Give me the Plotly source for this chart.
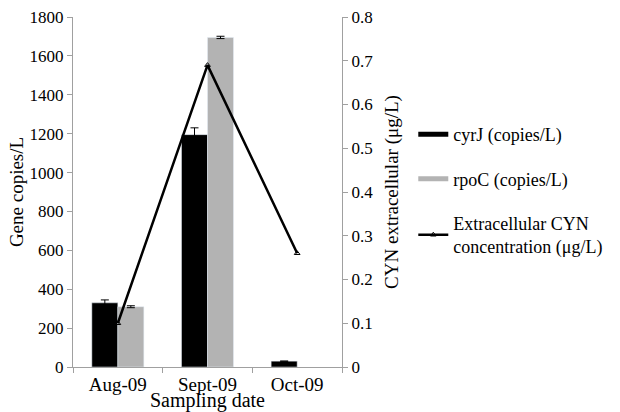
import plotly.graph_objects as go

categories = ["Aug-09", "Sept-09", "Oct-09"]
cyrJ = [330, 1195, 30]
cyrJ_err = [15, 35, 0]
rpoC = [310, 1695, None]
rpoC_err = [5, 6, 0]
cyn = [0.1, 0.69, 0.26]

FAM = "Liberation Serif, Times New Roman, serif"
font = dict(family=FAM, size=17, color="black")

fig = go.Figure()
fig.add_trace(go.Bar(x=categories, y=cyrJ, name="cyrJ (copies/L)", marker_color="black",
                     showlegend=False,
                     error_y=dict(type="data", array=cyrJ_err, color="black", thickness=1, width=4)))
fig.add_trace(go.Bar(x=categories, y=rpoC, name="rpoC (copies/L)", marker_color="#b3b3b3",
                     showlegend=False,
                     error_y=dict(type="data", array=rpoC_err, color="black", thickness=1, width=4)))
fig.add_trace(go.Scatter(x=categories, y=cyn, name="Extracellular CYN<br>concentration (μg/L)",
                         yaxis="y2", mode="lines+markers", legendgroup="c", legendrank=3,
                         line=dict(color="black", width=2.5),
                         marker=dict(symbol="triangle-up-open", size=5, color="black")))
# legend-only entries with wide swatches for the bar series
fig.add_trace(go.Scatter(x=[None], y=[None], mode="lines", name="cyrJ (copies/L)",
                         legendgroup="a", legendrank=1, line=dict(color="black", width=5)))
fig.add_trace(go.Scatter(x=[None], y=[None], mode="lines", name="rpoC (copies/L)",
                         legendgroup="b", legendrank=2, line=dict(color="#b3b3b3", width=5)))

ax = dict(showline=True, linecolor="#a0a0a0", ticks="outside", tickcolor="#a0a0a0", ticklen=5,
          showgrid=False, zeroline=False, automargin=False)

fig.update_layout(
    width=620, height=412,
    margin=dict(l=73, r=264, t=17, b=45),
    plot_bgcolor="white", paper_bgcolor="white",
    font=font,
    barmode="group", bargap=0.42, bargroupgap=0,
    showlegend=True,
    legend=dict(x=1.265, y=0.717, xanchor="left", yanchor="top",
                font=dict(family=FAM, size=18, color="black"),
                tracegroupgap=18, itemwidth=30, bgcolor="rgba(0,0,0,0)"),
    xaxis=dict(ax, tickson="boundaries", tickfont=dict(family=FAM, size=19, color="black"),
               title=dict(text="Sampling date", standoff=9,
                          font=dict(family=FAM, size=20, color="black"))),
    yaxis=dict(ax, range=[0, 1800], dtick=200, title=dict(text="Gene copies/L", standoff=0,
               font=dict(family=FAM, size=19, color="black"))),
    yaxis2=dict(ax, range=[0, 0.8], dtick=0.1, overlaying="y", side="right",
                title=dict(text="CYN extracellular (μg/L)", standoff=12,
                           font=dict(family=FAM, size=19, color="black"))),
)

fig.write_html("out.html", config={"displayModeBar": False},
               post_script="document.body.style.margin='0';")
